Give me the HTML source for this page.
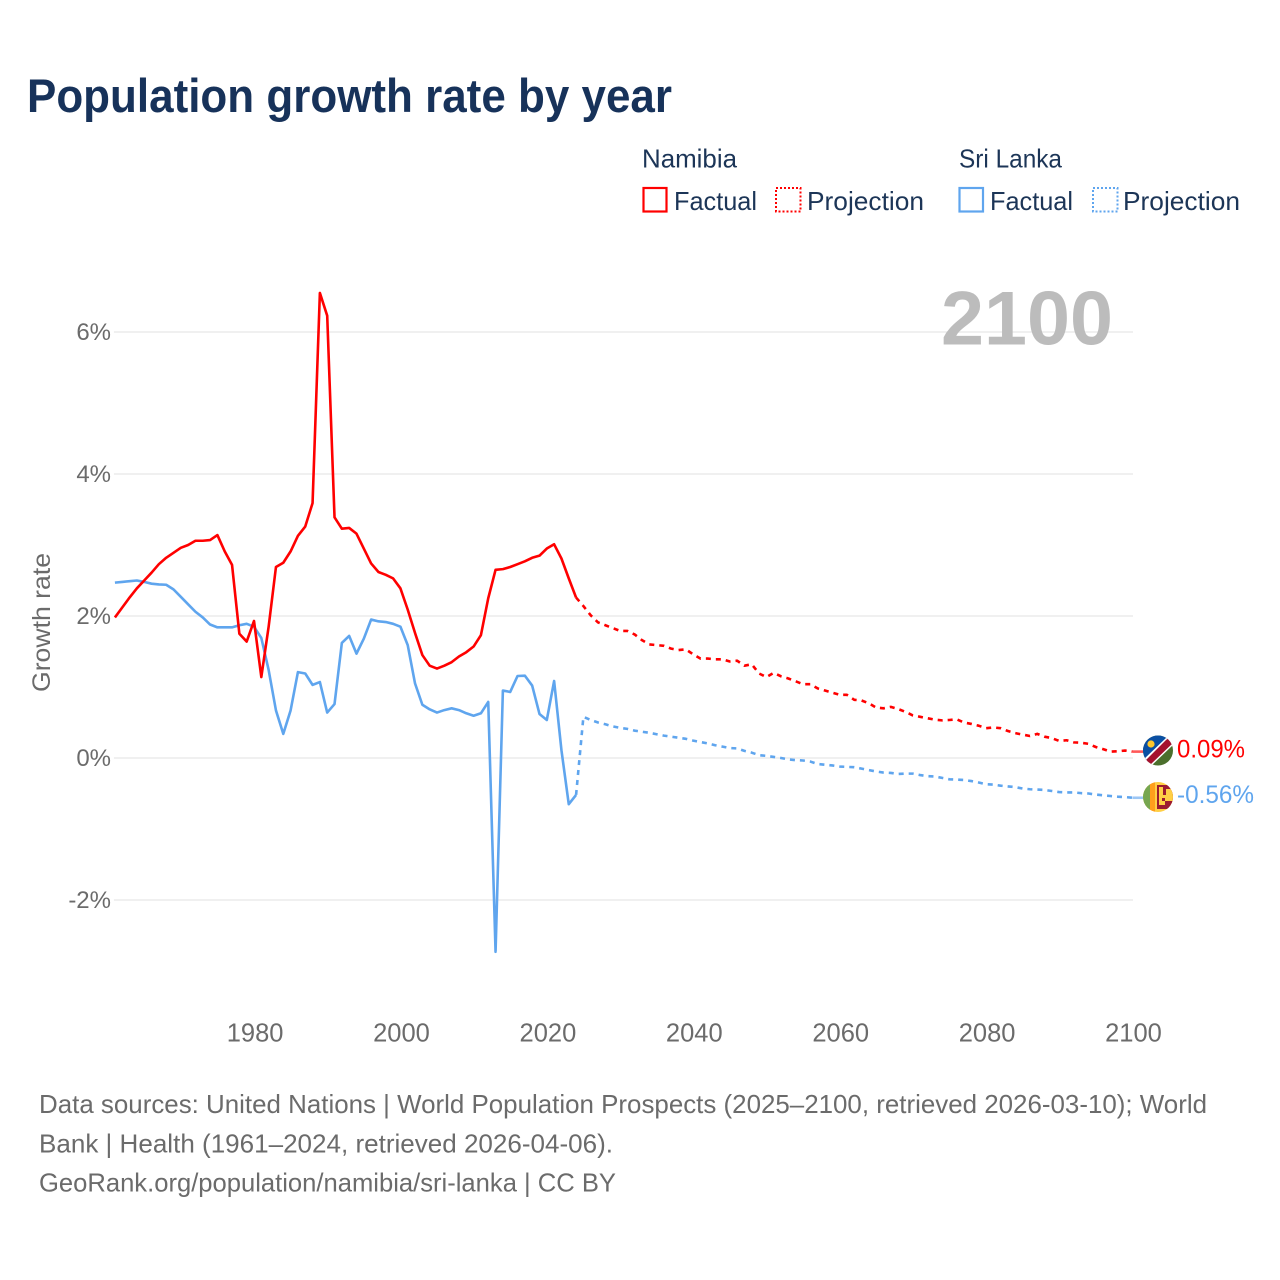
<!DOCTYPE html>
<html lang="en">
<head>
<meta charset="utf-8">
<title>Population growth rate by year</title>
<style>
html,body{margin:0;padding:0;background:#fff;}
svg{display:block;font-family:"Liberation Sans",sans-serif;}
</style>
</head>
<body>
<svg id="chart" xmlns="http://www.w3.org/2000/svg" width="1280" height="1280" viewBox="0 0 1280 1280">
  <defs>
    <clipPath id="flag-clip-na"><circle cx="1158" cy="750.5" r="15"/></clipPath>
    <clipPath id="flag-clip-lk"><circle cx="1158" cy="797" r="15"/></clipPath>
  </defs>
  <rect x="0" y="0" width="1280" height="1280" fill="#fff"/>
  <text x="27" y="112" font-size="47" font-weight="700" fill="#17325a" textLength="645" lengthAdjust="spacingAndGlyphs">Population growth rate by year</text>

  <g font-size="26" fill="#1c3557">
    <text x="642" y="167.5" textLength="95" lengthAdjust="spacingAndGlyphs">Namibia</text>
    <text x="959" y="167.5" textLength="103" lengthAdjust="spacingAndGlyphs">Sri Lanka</text>
    <g>
      <rect x="643.5" y="188" width="23" height="23.5" fill="none" stroke="#ff0000" stroke-width="2.2"/>
      <text x="674" y="210" textLength="83" lengthAdjust="spacingAndGlyphs">Factual</text>
    </g>
    <g>
      <rect x="776" y="188" width="24.5" height="23.5" fill="none" stroke="#ff0000" stroke-width="2" stroke-dasharray="2 2"/>
      <text x="807" y="210" textLength="117" lengthAdjust="spacingAndGlyphs">Projection</text>
    </g>
    <g>
      <rect x="959.5" y="188" width="23.5" height="23.5" fill="none" stroke="#5fa5ee" stroke-width="2.2"/>
      <text x="990" y="210" textLength="83" lengthAdjust="spacingAndGlyphs">Factual</text>
    </g>
    <g>
      <rect x="1093" y="188" width="24.5" height="23.5" fill="none" stroke="#5fa5ee" stroke-width="2" stroke-dasharray="2 2"/>
      <text x="1123" y="210" textLength="117" lengthAdjust="spacingAndGlyphs">Projection</text>
    </g>
  </g>

  <g id="grid"></g>
  <text x="941" y="344.5" font-size="76" font-weight="700" fill="#bcbcbc" textLength="172" lengthAdjust="spacingAndGlyphs">2100</text>
  <g id="y-ticks" font-size="24" fill="#6b6b6b" text-anchor="end"></g>
  <g id="x-ticks" font-size="25.5" fill="#6b6b6b" text-anchor="middle"></g>
  <text transform="translate(50,622.5) rotate(-90)" font-size="25" fill="#6b6b6b" text-anchor="middle" textLength="139" lengthAdjust="spacingAndGlyphs">Growth rate</text>
  <g id="series" fill="none" stroke-width="2.6" stroke-linejoin="round"></g>

  <g clip-path="url(#flag-clip-na)">
    <rect x="1143" y="735.5" width="30" height="30" fill="#4b6f2c"/>
    <polygon points="1143,735.5 1173,735.5 1143,765.5" fill="#0a4fa3"/>
    <polygon points="1143,760 1143,767 1150,767 1173,745 1173,738 1166,738" fill="#fff"/>
    <polygon points="1143,763 1146,767 1150,765 1173,743 1170,737 1166,740" fill="#a5112e"/>
    <circle cx="1151" cy="744" r="3.6" fill="#ffc72c"/>
  </g>
  <g clip-path="url(#flag-clip-lk)">
    <rect x="1143" y="782" width="30" height="30" fill="#ffcf45"/>
    <rect x="1143" y="782" width="7" height="30" fill="#76a650"/>
    <rect x="1150" y="782" width="5" height="30" fill="#ff9f1c"/>
    <rect x="1157" y="785" width="16" height="24" fill="#9c1b30"/>
    <path d="M1159 787h4v8h3v-6h7v12h-8v4h-6z" fill="#ffcf45"/>
    <rect x="1162" y="798" width="3" height="3" fill="#9c1b30"/>
  </g>

  <text x="1177" y="757.5" font-size="25" fill="#ff0000" textLength="68" lengthAdjust="spacingAndGlyphs">0.09%</text>
  <text x="1177" y="803" font-size="25" fill="#5fa5ee" textLength="77" lengthAdjust="spacingAndGlyphs">-0.56%</text>

  <g font-size="26" fill="#6b6b6b">
    <text x="39" y="1113" textLength="1168" lengthAdjust="spacingAndGlyphs">Data sources: United Nations | World Population Prospects (2025–2100, retrieved 2026-03-10); World</text>
    <text x="39" y="1152.5" textLength="574" lengthAdjust="spacingAndGlyphs">Bank | Health (1961–2024, retrieved 2026-04-06).</text>
    <text x="39" y="1191.5" textLength="577" lengthAdjust="spacingAndGlyphs">GeoRank.org/population/namibia/sri-lanka | CC BY</text>
  </g>
</svg>
<script>
const factualStartYear = 1961;
const projectionStartYear = 2025;
const yearTicks = [1980, 2000, 2020, 2040, 2060, 2080, 2100];
const rateTicks = [-2, 0, 2, 4, 6];
const namibiaFactual = [
  1.98,2.12,2.26,2.39,2.50,2.61,2.73,2.82,2.89,2.96,
  3.00,3.06,3.06,3.07,3.14,2.91,2.72,1.75,1.64,1.93,
  1.14,1.85,2.69,2.75,2.91,3.13,3.26,3.59,6.55,6.23,
  3.39,3.23,3.24,3.16,2.95,2.74,2.62,2.58,2.53,2.39,
  2.09,1.76,1.45,1.30,1.26,1.30,1.35,1.43,1.49,1.57,
  1.73,2.25,2.65,2.66,2.69,2.73,2.77,2.82,2.85,2.95,
  3.01,2.81,2.53,2.26
];
const namibiaProjection = [
  2.14,2.01,1.91,1.87,1.83,1.79,1.79,1.74,1.66,1.60,
  1.59,1.58,1.54,1.52,1.53,1.46,1.40,1.40,1.39,1.39,
  1.36,1.37,1.30,1.32,1.19,1.14,1.20,1.15,1.12,1.08,
  1.04,1.04,0.98,0.95,0.92,0.89,0.89,0.82,0.81,0.77,
  0.71,0.70,0.72,0.69,0.65,0.60,0.58,0.56,0.54,0.53,
  0.535,0.545,0.50,0.48,0.455,0.42,0.43,0.42,0.38,0.35,
  0.33,0.31,0.34,0.30,0.28,0.24,0.25,0.22,0.215,0.20,
  0.155,0.125,0.09,0.095,0.105,0.09
];
const sriLankaFactual = [
  2.47,2.48,2.49,2.50,2.48,2.455,2.445,2.44,2.375,2.27,
  2.165,2.06,1.98,1.88,1.84,1.84,1.84,1.87,1.89,1.85,
  1.69,1.24,0.67,0.34,0.67,1.21,1.19,1.03,1.07,0.64,
  0.76,1.62,1.72,1.47,1.68,1.95,1.925,1.915,1.89,1.85,
  1.59,1.05,0.75,0.685,0.64,0.675,0.70,0.675,0.63,0.595,
  0.63,0.79,-2.73,0.95,0.93,1.155,1.16,1.02,0.62,0.535,
  1.085,0.11,-0.65,-0.52
];
const sriLankaProjection = [
  0.58,0.535,0.50,0.475,0.445,0.425,0.41,0.385,0.37,0.355,
  0.335,0.315,0.30,0.285,0.27,0.245,0.225,0.205,0.18,0.16,
  0.14,0.135,0.10,0.075,0.04,0.03,0.015,0.0,-0.02,-0.03,
  -0.035,-0.05,-0.085,-0.095,-0.105,-0.12,-0.125,-0.13,-0.15,-0.17,
  -0.19,-0.205,-0.21,-0.225,-0.22,-0.22,-0.24,-0.255,-0.26,-0.28,
  -0.30,-0.305,-0.31,-0.325,-0.345,-0.37,-0.375,-0.39,-0.40,-0.41,
  -0.43,-0.44,-0.445,-0.45,-0.465,-0.48,-0.485,-0.485,-0.495,-0.50,
  -0.515,-0.525,-0.535,-0.545,-0.55,-0.56
];

const NS = 'http://www.w3.org/2000/svg';
function xScale(year) { return 254 + (year - 1980) * 7.32; }
function yScale(rate) { return 758 - rate * 71; }
function make(tag, parentId) {
  const el = document.createElementNS(NS, tag);
  document.getElementById(parentId).appendChild(el);
  return el;
}

rateTicks.forEach(function (tick) {
  const line = make('line', 'grid');
  
  
  line.setAttribute('x1', xScale(factualStartYear) - 1);
  line.setAttribute('x2', xScale(2100) + 0.6);
  line.setAttribute('y1', yScale(tick));
  line.setAttribute('y2', yScale(tick));
  line.setAttribute('stroke', '#ececec');
  line.setAttribute('stroke-width', '1.5');
  const label = make('text', 'y-ticks');
  
  
  label.setAttribute('x', 111);
  label.setAttribute('y', yScale(tick) + 8.2);
  label.textContent = tick + '%';
});

yearTicks.forEach(function (tick) {
  const label = make('text', 'x-ticks');
  
  
  label.setAttribute('x', xScale(tick) + 1.1);
  label.setAttribute('y', 1041.5);
  label.textContent = String(tick);
});

function linePath(points) {
  return points.map(function (p, i) {
    return (i ? 'L' : 'M') + xScale(p[0]).toFixed(2) + ' ' + yScale(p[1]).toFixed(2);
  }).join(' ');
}
function toPoints(values, startYear) {
  return values.map(function (v, i) { return [startYear + i, v]; });
}

const naFactualPoints = toPoints(namibiaFactual, factualStartYear);
const naProjectionPoints = [naFactualPoints[naFactualPoints.length - 1]].concat(toPoints(namibiaProjection, projectionStartYear));
const lkFactualPoints = toPoints(sriLankaFactual, factualStartYear);
const lkProjectionPoints = [lkFactualPoints[lkFactualPoints.length - 1]].concat(toPoints(sriLankaProjection, projectionStartYear));

const lkFactualLine = make('path', 'series');


lkFactualLine.setAttribute('d', linePath(lkFactualPoints));
lkFactualLine.setAttribute('stroke', '#5fa5ee');

const lkProjectionLine = make('path', 'series');


lkProjectionLine.setAttribute('d', linePath(lkProjectionPoints));
lkProjectionLine.setAttribute('stroke', '#5fa5ee');
lkProjectionLine.setAttribute('stroke-dasharray', '5 5');

const naFactualLine = make('path', 'series');


naFactualLine.setAttribute('d', linePath(naFactualPoints));
naFactualLine.setAttribute('stroke', '#ff0000');

const naProjectionLine = make('path', 'series');


naProjectionLine.setAttribute('d', linePath(naProjectionPoints));
naProjectionLine.setAttribute('stroke', '#ff0000');
naProjectionLine.setAttribute('stroke-dasharray', '5 5');

const naConnector = make('line', 'series');


naConnector.setAttribute('x1', xScale(2100));
naConnector.setAttribute('x2', xScale(2100) + 11);
naConnector.setAttribute('y1', yScale(namibiaProjection[namibiaProjection.length - 1]));
naConnector.setAttribute('y2', yScale(namibiaProjection[namibiaProjection.length - 1]));
naConnector.setAttribute('stroke', '#ff5a5a');

const lkConnector = make('line', 'series');


lkConnector.setAttribute('x1', xScale(2100));
lkConnector.setAttribute('x2', xScale(2100) + 11);
lkConnector.setAttribute('y1', yScale(sriLankaProjection[sriLankaProjection.length - 1]));
lkConnector.setAttribute('y2', yScale(sriLankaProjection[sriLankaProjection.length - 1]));
lkConnector.setAttribute('stroke', '#9cc6f4');
</script>
</body>
</html>
